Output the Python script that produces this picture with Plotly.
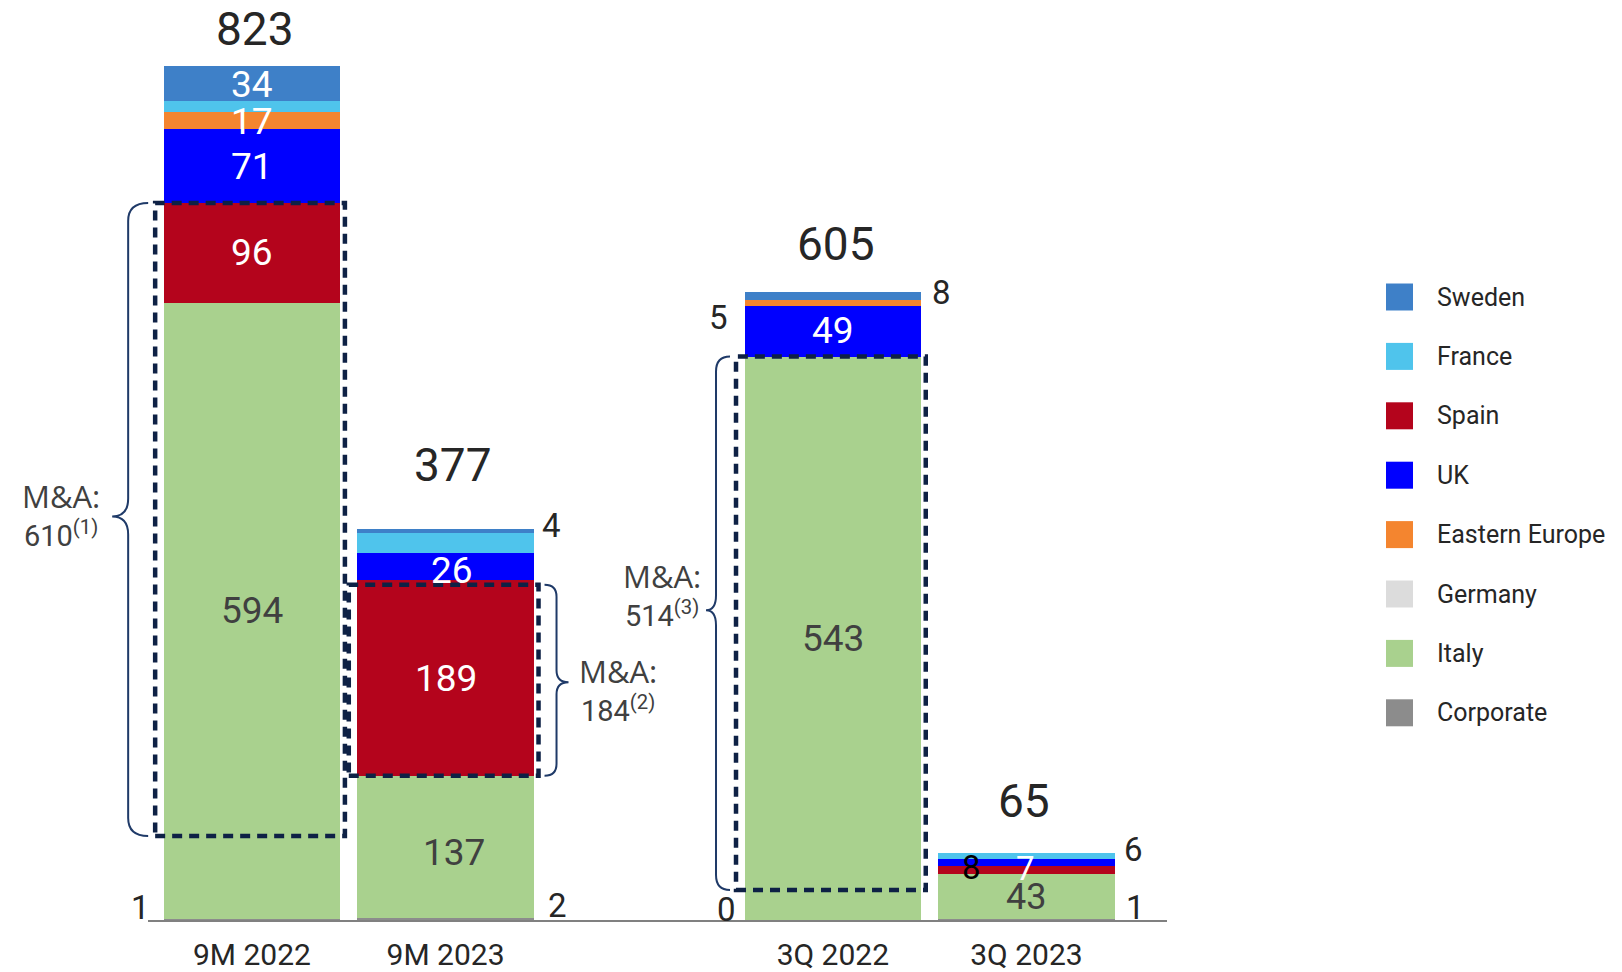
import plotly.graph_objects as go

# ---- data -----------------------------------------------------------------
categories = ["9M 2022", "9M 2023", "3Q 2022", "3Q 2023"]
x_pos = [0, 1, 3, 4]  # slot 2 is left empty to separate the 9M and 3Q groups

sweden = [34, 4, 8, 0]
france = [10, 19, 0, 6]
spain = [96, 189, 0, 8]
uk = [71, 26, 49, 7]
eastern_europe = [17, 0, 5, 0]
germany = [0, 0, 0, 0]
italy = [594, 137, 543, 43]
corporate = [1, 2, 0, 1]

ma_values = [610, 184, 514]
ma_notes = ["(1)", "(2)", "(3)"]

# ---- styling --------------------------------------------------------------
FONT = "Roboto"
WIDE_FONT = "Open Sans"
DARK = "#262626"
GREY_TXT = "#404040"
NAVY = "#0E2145"
BRACE = "#1F3A68"

colors = {
    "Sweden": "#3E80C8",
    "France": "#4FC4EC",
    "Spain": "#B4041C",
    "UK": "#0000FF",
    "Eastern Europe": "#F4852F",
    "Germany": "#DCDCDC",
    "Italy": "#A9D18E",
    "Corporate": "#8C8C8C",
}

# stacking order, bottom to top
stack = [
    ("Corporate", corporate),
    ("Italy", italy),
    ("Germany", germany),
    ("Spain", spain),
    ("UK", uk),
    ("Eastern Europe", eastern_europe),
    ("France", france),
    ("Sweden", sweden),
]
legend_order = ["Sweden", "France", "Spain", "UK", "Eastern Europe",
                "Germany", "Italy", "Corporate"]

W, H = 1622, 972
M_L, M_R, M_T, M_B = 148, 455, 20, 52
X_RANGE = [-0.537, 4.726]
Y_RANGE = [0, 867.3]
BAR_W = 0.91
PPX = (W - M_L - M_R) / (X_RANGE[1] - X_RANGE[0])
PPY = (H - M_T - M_B) / (Y_RANGE[1] - Y_RANGE[0])


def to_px(x, y):
    return M_L + (x - X_RANGE[0]) * PPX, H - M_B - (y - Y_RANGE[0]) * PPY


def paper_x(px):
    return (px - M_L) / (W - M_L - M_R)


def paper_y(py):
    return (H - M_B - py) / (H - M_T - M_B)


# ---- bars -----------------------------------------------------------------
fig = go.Figure()
bottoms = {}
running = [0] * len(x_pos)
for name, vals in stack:
    bottoms[name] = list(running)
    fig.add_trace(go.Bar(
        x=x_pos, y=vals, name=name, width=BAR_W,
        marker=dict(color=colors[name], line=dict(width=0)),
        showlegend=False, hoverinfo="x+y+name",
    ))
    running = [r + v for r, v in zip(running, vals)]
totals = running

annotations = []
shapes = []

# segment value labels: (series, slot) -> (placement, colour, xshift, yshift, size)
label_spec = {
    ("Corporate", 0): ("left", DARK, -12, 12, 33),
    ("Italy", 0): ("in", GREY_TXT, 0, 0, 37),
    ("Spain", 0): ("in", "white", 0, 0, 37),
    ("UK", 0): ("in", "white", 0, 0, 37),
    ("Eastern Europe", 0): ("in", "white", 0, -1, 37),
    ("Sweden", 0): ("in", "white", 0, -1, 37),
    ("Corporate", 1): ("right", DARK, 12, 13, 33),
    ("Italy", 1): ("in", GREY_TXT, 8, -6, 37),
    ("Spain", 1): ("in", "white", 0, -1, 37),
    ("UK", 1): ("in", "white", 6, -4, 37),
    ("Sweden", 1): ("right", DARK, 6, 5, 33),
    ("Corporate", 3): ("left", DARK, -7, 11, 33),
    ("Italy", 3): ("in", GREY_TXT, 0, 0, 37),
    ("UK", 3): ("in", "white", 0, 1, 37),
    ("Eastern Europe", 3): ("left", DARK, -15, -14, 33),
    ("Sweden", 3): ("right", DARK, 9, 4, 33),
    ("Corporate", 4): ("right", DARK, 9, 12, 33),
    ("Italy", 4): ("in", GREY_TXT, 0, 0, 36),
    ("Spain", 4): ("in", "black", -55, 3, 33),
    ("UK", 4): ("in", "white", -1, -6, 33),
    ("France", 4): ("right", DARK, 7, 6, 33),
}

for name, vals in stack:
    for i, xv in enumerate(x_pos):
        spec = label_spec.get((name, xv))
        if spec is None:
            continue
        place, col, xs, ys, size = spec
        mid = bottoms[name][i] + vals[i] / 2
        if place == "in":
            ax, anchor = xv, "center"
        elif place == "left":
            ax, anchor = xv - BAR_W / 2, "right"
        else:
            ax, anchor = xv + BAR_W / 2, "left"
        annotations.append(dict(
            x=ax, y=mid, text=str(vals[i]), showarrow=False,
            xanchor=anchor, yanchor="middle", xshift=xs, yshift=ys,
            font=dict(family=FONT, size=size, color=col),
        ))

# totals above each bar
total_shift = [(3, 37), (7, 64), (3, 48), (-2, 52)]
for xv, tot, (xs, ys) in zip(x_pos, totals, total_shift):
    annotations.append(dict(
        x=xv, y=tot, text=str(tot), showarrow=False,
        xanchor="center", yanchor="middle", xshift=xs, yshift=ys,
        font=dict(family=FONT, size=46, color=DARK),
    ))

# ---- M&A boxes and braces --------------------------------------------------
def seg_top(name, i):
    return bottoms[name][i] + dict(stack)[name][i]


ma_boxes = [
    # (category slot, y bottom, y top)
    (0, seg_top("Spain", 0) - ma_values[0], seg_top("Spain", 0)),
    (1, seg_top("Italy", 1), seg_top("Italy", 1) + ma_values[1]),
    (3, seg_top("Italy", 2) - ma_values[2], seg_top("Italy", 2)),
]
# brace: side, end/back/tip offsets (px) from the box edge, tip offset from mid, radius
brace_spec = [
    ("left", 7, 27, 43, -3, 18),
    ("right", 6, 18, 30, 2, 12),
    ("left", 6, 20, 30, -13, 15),
]
# text block: horizontal gap from the tip (px), vertical offset of the block centre (px)
text_spec = [
    (8, -2),
    (6, 7),
    (1, -16),
]


def brace_path(x_end, x_back, x_tip, y_top, y_bot, y_tip, r):
    pts = [
        ("M", [(x_end, y_top)]),
        ("Q", [(x_back, y_top), (x_back, y_top + r)]),
        ("L", [(x_back, y_tip - r)]),
        ("Q", [(x_back, y_tip), (x_tip, y_tip)]),
        ("Q", [(x_back, y_tip), (x_back, y_tip + r)]),
        ("L", [(x_back, y_bot - r)]),
        ("Q", [(x_back, y_bot), (x_end, y_bot)]),
    ]
    out = []
    for cmd, coords in pts:
        conv = " ".join(f"{paper_x(px):.5f},{paper_y(py):.5f}" for px, py in coords)
        out.append(cmd + " " + conv)
    return " ".join(out)


for k, (xv, y0, y1) in enumerate(ma_boxes):
    x0, x1 = xv - 0.5, xv + 0.48
    shapes.append(dict(
        type="rect", xref="x", yref="y", x0=x0, x1=x1, y0=y0, y1=y1,
        line=dict(color=NAVY, width=4.5, dash="10px,7px"),
        fillcolor="rgba(0,0,0,0)", layer="above",
    ))
    side, o_end, o_back, o_tip, tip_dy, r = brace_spec[k]
    px0, py_bot = to_px(x0, y0)
    px1, py_top = to_px(x1, y1)
    if side == "left":
        edge, sgn = px0, -1
    else:
        edge, sgn = px1, 1
    y_tip = (py_top + py_bot) / 2 + tip_dy
    x_tip = edge + sgn * o_tip
    path = brace_path(edge + sgn * o_end, edge + sgn * o_back, x_tip,
                      py_top, py_bot, y_tip, r)
    shapes.append(dict(type="path", xref="paper", yref="paper", path=path,
                       line=dict(color=BRACE, width=2), layer="above"))
    gap, dy = text_spec[k]
    tx = x_tip + sgn * gap
    cy = y_tip + dy
    label = (f"<span style='font-family:{WIDE_FONT};font-size:31px'>M&A:</span>"
             f"<br>{ma_values[k]}<sup>{ma_notes[k]}</sup>")
    # the two lines share one centre line so the block reads as a single label
    block_w = 86
    cx = tx - block_w / 2 if side == "left" else tx + block_w / 2
    annotations.append(dict(
        x=paper_x(cx), y=paper_y(cy), xref="paper", yref="paper",
        showarrow=False, text=label, xanchor="center", yanchor="middle",
        align="center",
        font=dict(family=FONT, size=29, color=GREY_TXT),
    ))

# ---- legend ---------------------------------------------------------------
LEG_X0, LEG_SQ, LEG_TX = 1386, 27, 1435
LEG_Y0, LEG_DY = 297, 59.4
for j, name in enumerate(legend_order):
    cy = LEG_Y0 + j * LEG_DY
    shapes.append(dict(
        type="rect", xref="paper", yref="paper",
        x0=paper_x(LEG_X0), x1=paper_x(LEG_X0 + LEG_SQ),
        y0=paper_y(cy + LEG_SQ / 2), y1=paper_y(cy - LEG_SQ / 2),
        line=dict(width=0), fillcolor=colors[name],
    ))
    annotations.append(dict(
        x=paper_x(LEG_TX), y=paper_y(cy), xref="paper", yref="paper",
        text=name, showarrow=False, xanchor="left", yanchor="middle",
        font=dict(family=FONT, size=25, color=DARK),
    ))

fig.update_layout(
    barmode="stack",
    width=W, height=H,
    margin=dict(l=M_L, r=M_R, t=M_T, b=M_B),
    paper_bgcolor="white", plot_bgcolor="white",
    showlegend=False,
    font=dict(family=FONT, color=DARK),
    xaxis=dict(
        range=X_RANGE, tickvals=x_pos, ticktext=categories,
        showgrid=False, zeroline=False, showline=True,
        linecolor="#808080", linewidth=2, ticks="",
        tickfont=dict(family=FONT, size=30, color=DARK),
        ticklabelstandoff=7, automargin=False, fixedrange=True,
    ),
    yaxis=dict(range=Y_RANGE, visible=False, showgrid=False,
               zeroline=False, automargin=False, fixedrange=True),
    annotations=annotations,
    shapes=shapes,
)

fig.write_html("out.html")
